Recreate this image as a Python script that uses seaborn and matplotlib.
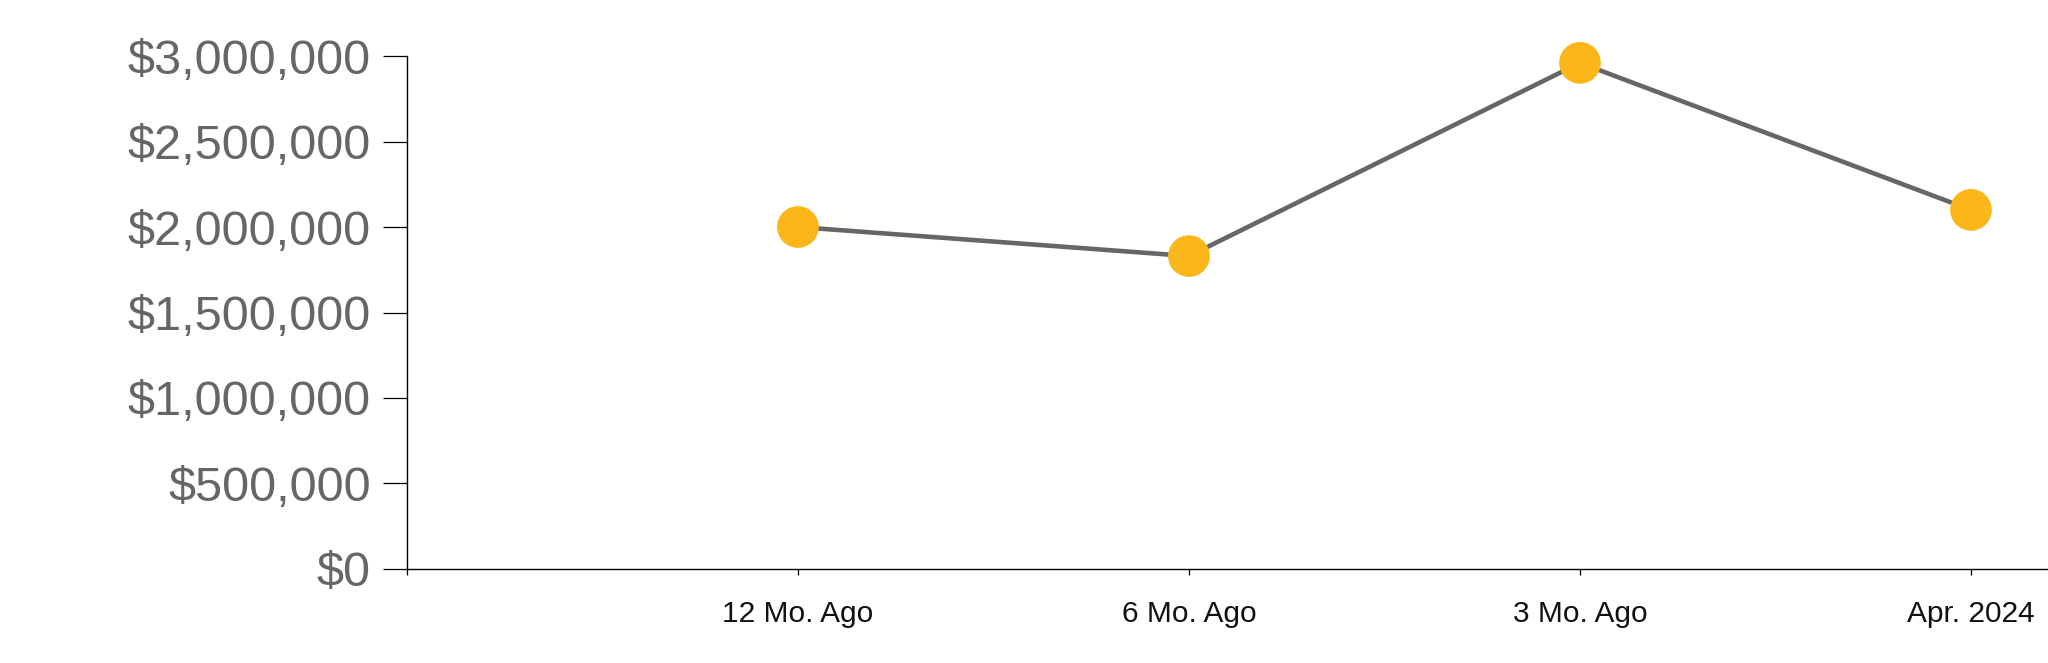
import numpy as np
import pandas as pd
import seaborn as sns
import matplotlib.pyplot as plt
from matplotlib.ticker import FuncFormatter

# data
periods = ["12 Mo. Ago", "6 Mo. Ago", "3 Mo. Ago", "Apr. 2024"]
values = [2000000, 1830000, 2960000, 2100000]
y_ticks = [0, 500000, 1000000, 1500000, 2000000, 2500000, 3000000]

df = pd.DataFrame({"period": periods, "value": values})

sns.set_style("white")
plt.rcParams["font.family"] = ["Liberation Sans", "DejaVu Sans"]

fig = plt.figure(figsize=(20.48, 6.63), dpi=100)
ax = fig.add_axes([0.1987, 0.1418, 0.8013, 0.7737])

sns.lineplot(data=df, x="period", y="value", sort=False, color="#666666",
             linewidth=3.3, ax=ax, zorder=2)
sns.scatterplot(data=df, x="period", y="value", color="#FBB619", s=900,
                edgecolor="none", ax=ax, zorder=3, clip_on=False)

ax.set_xlim(-1, 3.197)
ax.set_ylim(0, 3000000)
ax.set_yticks(y_ticks)
ax.yaxis.set_major_formatter(FuncFormatter(lambda v, p: "${:,.0f}".format(v)))

# extra tick at the left end of the x axis (empty slot)
ax.set_xticks([-1, 0, 1, 2, 3])
ax.set_xticklabels([""] + periods)

ax.set_xlabel("")
ax.set_ylabel("")

for side in ["top", "right"]:
    ax.spines[side].set_visible(False)
for side in ["left", "bottom"]:
    ax.spines[side].set_color("black")
    ax.spines[side].set_linewidth(1.0)

ax.tick_params(axis="y", length=17.5, width=0.9, color="black", pad=8.5,
               labelsize=35, labelcolor="#666666", left=True)
ax.tick_params(axis="x", length=4, width=0.9, color="black", pad=18,
               labelsize=21.5, labelcolor="#111111", bottom=True)

fig.savefig("out.png", dpi=100)
